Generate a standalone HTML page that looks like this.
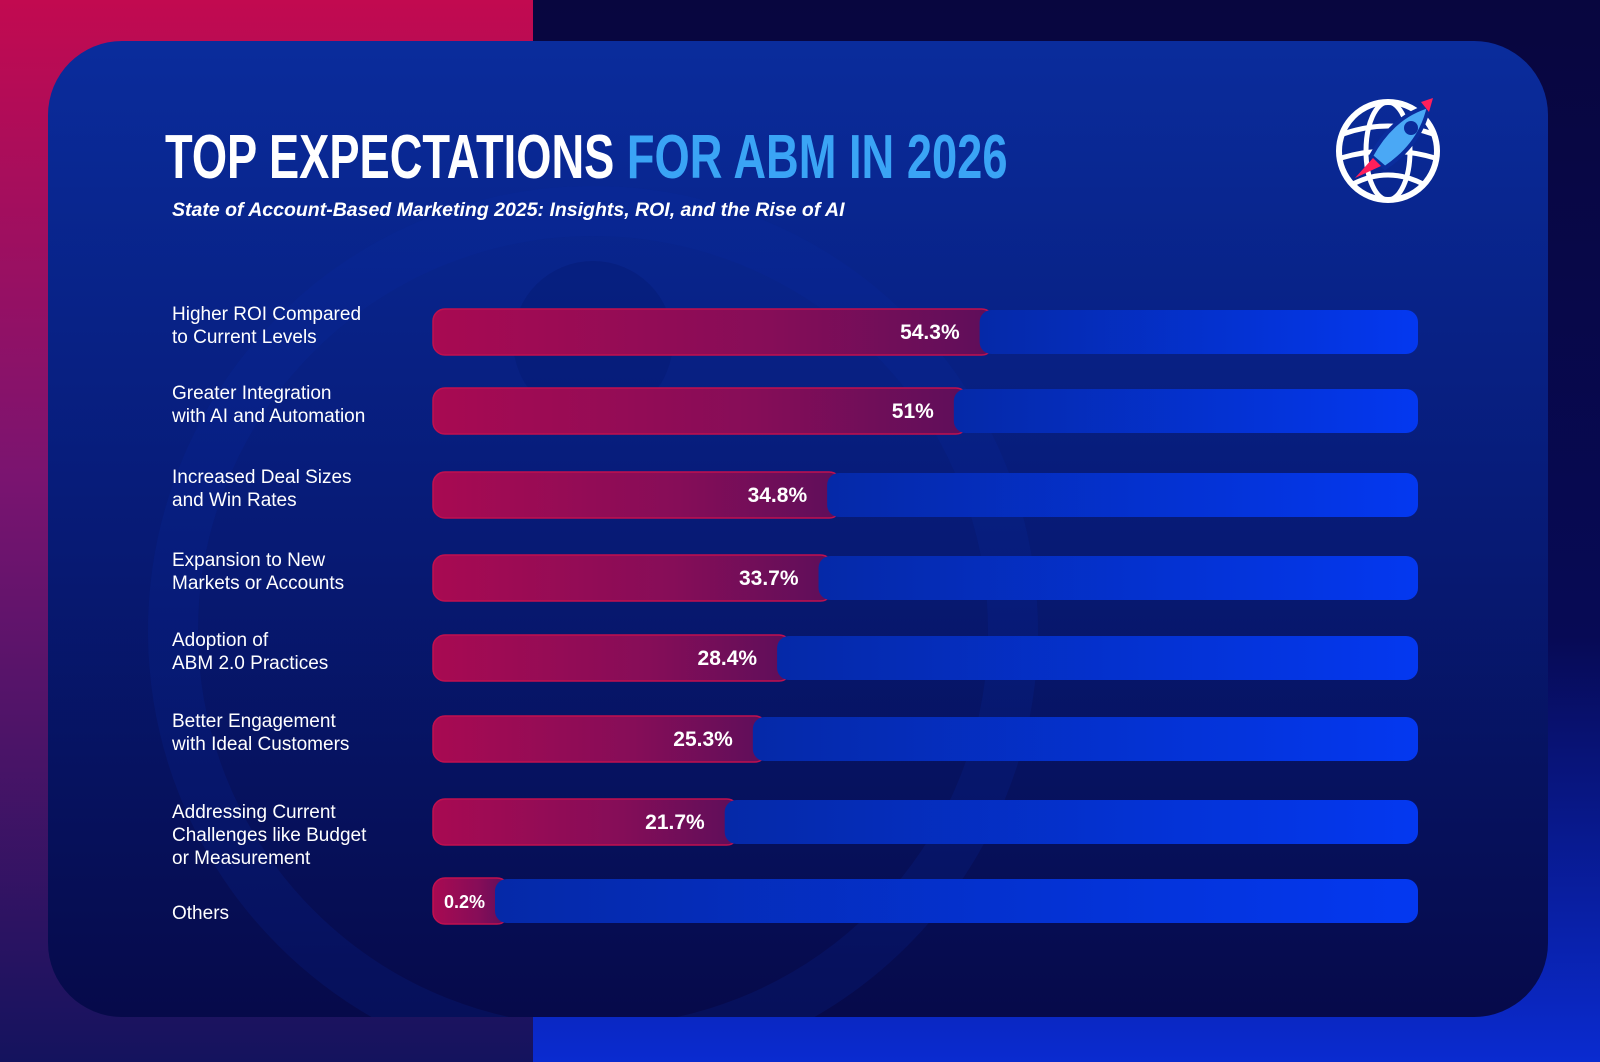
<!DOCTYPE html>
<html><head><meta charset="utf-8"><style>
html,body{margin:0;padding:0;width:1600px;height:1062px;overflow:hidden;font-family:"Liberation Sans",sans-serif}
#bg{position:absolute;left:0;top:0;width:1600px;height:1062px;background:linear-gradient(180deg,#08063f 0%,#070a55 60%,#0a2bd0 100%)}
#bgl{position:absolute;left:0;top:0;width:533px;height:1062px;background:linear-gradient(180deg,#c20a50 0%,#7a1470 45%,#14135e 100%)}
#card{position:absolute;left:48px;top:41px;width:1500px;height:976px;border-radius:74px;background:linear-gradient(180deg,#0a2c9c 0%,#071c7a 45%,#060a4a 100%);overflow:hidden}
.title{position:absolute;left:165px;top:122px;font-weight:bold;font-size:62px;color:#fff;white-space:nowrap;transform:scaleX(0.73);transform-origin:0 0}
.title span{color:#3aa4f5}
.sub{position:absolute;left:172px;top:199px;font-style:italic;font-weight:bold;font-size:19.5px;color:#fff;white-space:nowrap}
.lab{position:absolute;left:172px;color:#fff;font-size:19px;line-height:23px;white-space:nowrap}
</style></head><body>
<div id="bg"></div>
<div id="bgl"></div>
<div id="card">
<svg width="1500" height="976" style="position:absolute;left:0;top:0">
<circle cx="545" cy="590" r="420" fill="none" stroke="#0b2aa8" stroke-width="50" opacity="0.18"/>
<circle cx="545" cy="300" r="80" fill="#061a70" opacity="0.4"/>
</svg>
</div>
<div class="title">TOP EXPECTATIONS <span>FOR ABM IN 2026</span></div>
<div class="sub">State of Account-Based Marketing 2025: Insights, ROI, and the Rise of AI</div>
<svg width="110" height="110" style="position:absolute;left:1333px;top:96px" viewBox="0 0 110 110">
<circle cx="55" cy="55" r="49" fill="none" stroke="#fff" stroke-width="6"/>
<ellipse cx="55" cy="55" rx="22" ry="49" fill="none" stroke="#fff" stroke-width="5"/>
<path d="M10 38 Q55 22 100 38 M8 62 Q55 48 102 62 M20 88 Q55 70 90 88" fill="none" stroke="#fff" stroke-width="5"/>
<path d="M38 60 Q60 20 96 10 Q88 48 52 72 Z" fill="#4aa8f5" stroke="#0a2c9c" stroke-width="4"/>
<circle cx="78" cy="32" r="7" fill="#0a2c9c"/>
<path d="M40 62 L22 82 L48 70 Z" fill="#ff1f5a"/>
<path d="M88 6 L100 2 L96 16 Z" fill="#ff1f5a"/>
</svg>
<svg id="chart" width="1600" height="1062" style="position:absolute;left:0;top:0">
<defs>
<linearGradient id="gr" x1="0" x2="1" y1="0" y2="0"><stop offset="0" stop-color="#a80a52"/><stop offset="0.6" stop-color="#860d58"/><stop offset="1" stop-color="#5e0e5a"/></linearGradient>
<linearGradient id="gb" x1="0" x2="1" y1="0" y2="0"><stop offset="0" stop-color="#0529a8"/><stop offset="1" stop-color="#0438f0"/></linearGradient>
</defs>
</svg>
<div id="labels"></div>
<script>
const categories=["Higher ROI Compared|to Current Levels","Greater Integration|with AI and Automation","Increased Deal Sizes|and Win Rates","Expansion to New|Markets or Accounts","Adoption of|ABM 2.0 Practices","Better Engagement|with Ideal Customers","Addressing Current|Challenges like Budget|or Measurement","Others"];
const values=[54.3,51,34.8,33.7,28.4,25.3,21.7,0.2];
const valueLabels=["54.3%","51%","34.8%","33.7%","28.4%","25.3%","21.7%","0.2%"];
const rowY=[332,411,495,578,658,739,822,901];
const X0=433,X1=1418,H=46;
function xScale(v){return v<2?X0+60+v*10:555+7.82*v;}
const svg=document.getElementById('chart');const NS='http://www.w3.org/2000/svg';
const labs=document.getElementById('labels');
values.forEach((v,i)=>{
 const cy=rowY[i],y=cy-H/2,xe=xScale(v);
 const r=document.createElementNS(NS,'rect');
 
 
 r.setAttribute('x',X0);r.setAttribute('y',y);r.setAttribute('width',xe-X0+14);r.setAttribute('height',H);r.setAttribute('rx',12);r.setAttribute('fill','url(#gr)');r.setAttribute('stroke','#c0104f');r.setAttribute('stroke-width','1.5');
 svg.appendChild(r);
 const b=document.createElementNS(NS,'rect');
 
 
 b.setAttribute('x',xe);b.setAttribute('y',y+1);b.setAttribute('width',X1-xe);b.setAttribute('height',H-2);b.setAttribute('rx',12);b.setAttribute('fill','url(#gb)');
 svg.appendChild(b);
 const t=document.createElementNS(NS,'text');
 
 
 t.setAttribute('x',xe-(v<1?10:20));t.setAttribute('y',cy+7);t.setAttribute('text-anchor','end');t.setAttribute('fill','#fff');t.setAttribute('font-weight','bold');t.setAttribute('font-size',v<1?18:21);t.setAttribute('font-family','Liberation Sans, sans-serif');
 t.textContent=valueLabels[i];svg.appendChild(t);
 const lines=categories[i].split('|');
 const d=document.createElement('div');
 
 
 d.className='lab';
 const off=lines.length==3?2:(lines.length==2?-29:1);
 d.style.top=(cy+off-(lines.length==3?23:0))+'px';
 d.innerHTML=lines.join('<br>');labs.appendChild(d);
});
</script>
</body></html>
